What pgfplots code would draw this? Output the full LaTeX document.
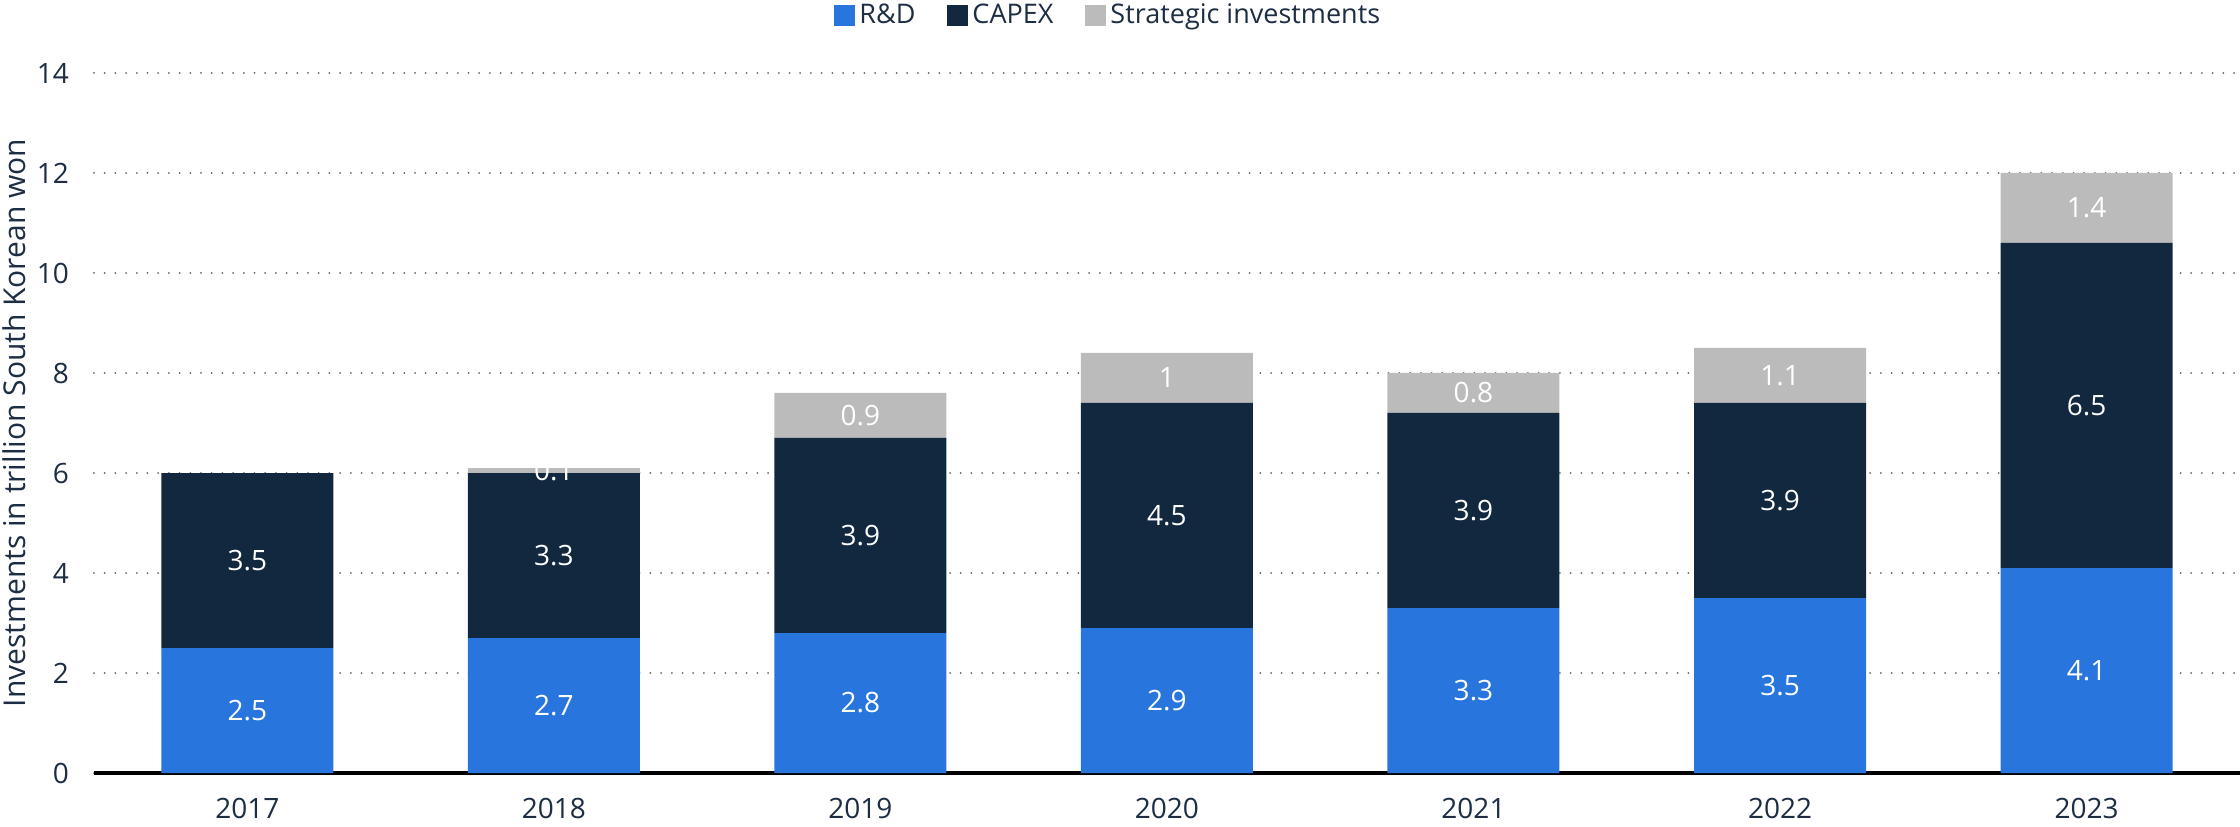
\documentclass[border=0pt]{standalone}
\usepackage{fontspec}
\setmainfont{Open Sans}
\usepackage{pgfplots}
\usepackage{pgfplotstable}
\pgfplotsset{compat=1.18}

\definecolor{rdblue}{HTML}{2876DD}
\definecolor{capexnavy}{HTML}{12283F}
\definecolor{stratgray}{HTML}{BBBBBB}
\definecolor{textnavy}{HTML}{1D2D44}

% grid behind the bars, x axis line in front of them
\pgfplotsset{
  layers/bars below axis/.define layer set={axis background,axis grid,main,axis ticks,axis lines,axis tick labels,axis descriptions,axis foreground}{},
}

\pgfplotstableread{
x rd capex strat
0 2.5 3.5 0
1 2.7 3.3 0.1
2 2.8 3.9 0.9
3 2.9 4.5 1.0
4 3.3 3.9 0.8
5 3.5 3.9 1.1
6 4.1 6.5 1.4
}\invest

\begin{document}
\begin{tikzpicture}
\begin{axis}[
    at={(0,0)}, anchor=south west,
    set layers=bars below axis,
    ybar stacked,
    bar width=0.561,
    scale only axis,
    width=1073pt, height=350pt,
    xmin=-0.5, xmax=6.5,
    ymin=0, ymax=14,
    xtick=data,
    xticklabels={2017,2018,2019,2020,2021,2022,2023},
    ytick={0,2,...,14},
    axis x line*=bottom,
    axis y line*=left,
    y axis line style={draw=none},
    x axis line style={line width=2pt, color=black},
    major tick length=0pt,
    ymajorgrids,
    major grid style={black!60, line width=1pt, line cap=round, dash pattern=on 0pt off 5.35pt},
    /pgf/number format/assume math mode=true,
    tick label style={font=\fontsize{14}{16}\selectfont, text=textnavy},
    xticklabel style={yshift=-9pt},
    yticklabel style={xshift=-9pt},
    ylabel={Investments in trillion South Korean won},
    ylabel style={at={(axis description cs:-0.0373,0.5)}, anchor=center, font=\fontsize{15}{18}\selectfont, text=textnavy},
    nodes near coords={\pgfmathfloatifflags{\pgfplotspointmeta}{0}{}{\pgfmathprintnumber{\pgfplotspointmeta}}},
    every node near coord/.append style={anchor=center, font=\fontsize{14}{16}\selectfont, text=white},
    legend columns=-1,
    legend style={draw=none, fill=none, inner sep=0pt,
        at={(axis description cs:0,1)}, anchor=west, xshift=370pt, yshift=28.75pt,
        font=\fontsize{13.5}{16}\selectfont, text=textnavy,
        /tikz/every even column/.append style={column sep=14pt}},
    legend image code/.code={\fill[#1] (0pt,-5.25pt) rectangle (10.5pt,5.25pt);},
]
\addplot[fill=rdblue, draw=none] table[x=x, y=rd] {\invest};
\addplot[fill=capexnavy, draw=none] table[x=x, y=capex] {\invest};
\addplot[fill=stratgray, draw=none] table[x=x, y=strat] {\invest};
\legend{R\&D, CAPEX, Strategic investments}
\end{axis}
\pgfresetboundingbox
\path[use as bounding box] (-47pt,-26.5pt) rectangle (1073pt,386.5pt);
\end{tikzpicture}
\end{document}
